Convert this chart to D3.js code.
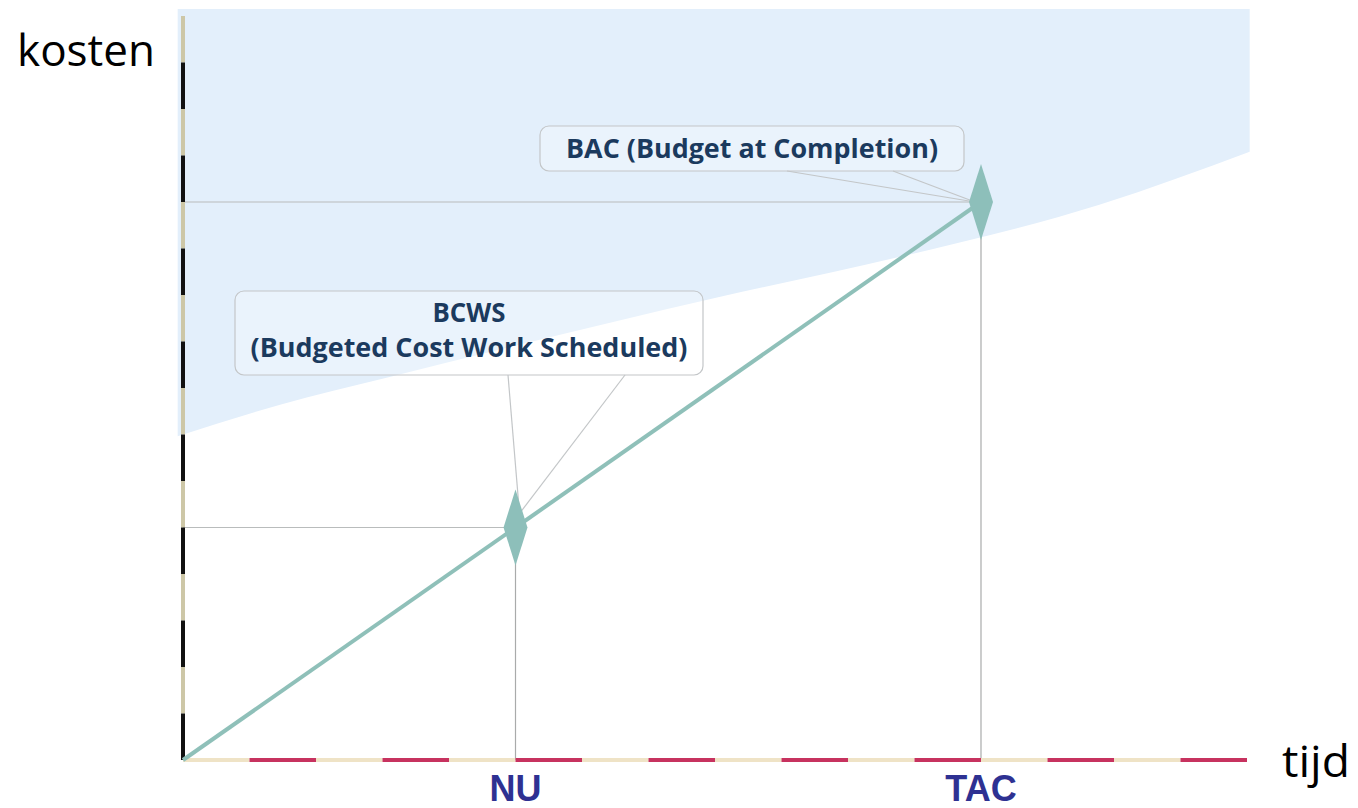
<!DOCTYPE html>
<html>
<head>
<meta charset="utf-8">
<script src="https://cdn.jsdelivr.net/npm/d3@7"></script>
<style>
  body { margin: 0; background: #fff; }
  svg { display: block; }
</style>
</head>
<body>
<div id="chart"></div>
<script>
// axis units (time / cost), one dash period per unit
var xUnits = [0, 1, 2, 3, 4, 5, 6, 7];
var yUnits = [0, 1, 2, 3, 4, 5, 6, 7];

// planned cost line (BCWS) and its milestones
var timeValues = [0, 2.5, 6];
var costValues = [0, 2.5, 6];
var milestoneLabels = ["", "NU", "TAC"];

// edge of the blue zone (time, cost)
var zoneTime = [-0.04, 0.73, 1.53, 4.04, 5.39, 6.89, 8.02];
var zoneCost = [3.48, 3.82, 4.11, 4.98, 5.41, 5.97, 6.54];

var bacText = ["BAC (Budget at Completion)"];
var bcwsText = ["BCWS", "(Budgeted Cost Work Scheduled)"];

var width = 1358, height = 808;

var x = d3.scaleLinear().domain([0, 8]).range([183, 1247]);
var y = d3.scaleLinear().domain([0, 8]).range([760, 16]);

var svg = d3.select("#chart").append("svg")
    .attr("width", width)
    .attr("height", height);

// blue zone: panel top down to the curved edge
var zone = zoneTime.map(function(t, i) { return [t, zoneCost[i]]; });
var edge = d3.line()
    .x(function(d) { return x(d[0]); })
    .y(function(d) { return y(d[1]); })
    .curve(d3.curveMonotoneX);
var topCost = y.invert(9);
svg.append("path")
    .attr("d", edge(zone) + "L" + x(8.02) + "," + y(topCost) + "L" + x(-0.04) + "," + y(topCost) + "Z")
    .attr("fill", "#e3effb");

// helper lines from the axes to each milestone
var pts = timeValues.map(function(t, i) { return {t: t, c: costValues[i], label: milestoneLabels[i]}; });
var marks = pts.filter(function(d) { return d.label !== ""; });

svg.selectAll("line.hguide").data(marks).enter().append("line")
    .attr("class", "hguide")
    .attr("x1", x(0)).attr("x2", function(d) { return x(d.t) - 8; })
    .attr("y1", function(d) { return y(d.c); }).attr("y2", function(d) { return y(d.c); })
    .attr("stroke", "#b9bcbc").attr("stroke-width", 1.2);

svg.selectAll("line.vguide").data(marks).enter().append("line")
    .attr("class", "vguide")
    .attr("x1", function(d) { return x(d.t); }).attr("x2", function(d) { return x(d.t); })
    .attr("y1", function(d) { return y(d.c) + 30; }).attr("y2", y(0))
    .attr("stroke", "#a9abab").attr("stroke-width", 1.2);

// callout boxes
function callout(lines, widths, bx, by, bw, bh, tail, tip, baselines) {
  svg.append("rect")
      .attr("x", bx).attr("y", by).attr("width", bw).attr("height", bh)
      .attr("rx", 9).attr("ry", 9)
      .attr("fill", "#ffffff").attr("fill-opacity", 0.25)
      .attr("stroke", "#c3c6c8").attr("stroke-width", 1.2);
  tail.forEach(function(tx) {
    svg.append("line")
        .attr("x1", tx).attr("y1", by + bh)
        .attr("x2", tip[0]).attr("y2", tip[1])
        .attr("stroke", "#c3c6c8").attr("stroke-width", 1.2);
  });
  svg.selectAll(null).data(lines).enter().append("text")
      .attr("x", bx + bw / 2)
      .attr("y", function(d, i) { return baselines[i]; })
      .attr("text-anchor", "middle")
      .attr("font-family", "'Open Sans', sans-serif")
      .attr("font-weight", 700)
      .attr("font-size", 27)
      .attr("fill", "#1b3a5e")
      .attr("textLength", function(d, i) { return widths[i]; })
      .attr("lengthAdjust", "spacingAndGlyphs")
      .text(function(d) { return d; });
}

var bac = marks[1], bcws = marks[0];
callout(bacText, [372], 540, 126, 424, 45, [787, 893], [x(bac.t) - 6, y(bac.c)], [158]);
callout(bcwsText, [73, 437], 235, 291, 468, 84, [508, 625], [x(bcws.t) + 4, y(bcws.c) - 14], [322, 357]);

// axes: dashed two-tone lines
svg.selectAll("line.ybeige").data(yUnits).enter().append("line")
    .attr("x1", x(0)).attr("x2", x(0))
    .attr("y1", function(d) { return y(d + 0.5); }).attr("y2", function(d) { return y(d + 1); })
    .attr("stroke", "#cdc7a7").attr("stroke-width", 4);
svg.selectAll("line.yblack").data(yUnits).enter().append("line")
    .attr("x1", x(0)).attr("x2", x(0))
    .attr("y1", function(d) { return y(d); }).attr("y2", function(d) { return y(d + 0.5); })
    .attr("stroke", "#111").attr("stroke-width", 4);

svg.selectAll("line.xbeige").data(xUnits).enter().append("line")
    .attr("x1", function(d) { return x(d); }).attr("x2", function(d) { return x(d + 0.5); })
    .attr("y1", y(0)).attr("y2", y(0))
    .attr("stroke", "#efe3c6").attr("stroke-width", 4);
svg.selectAll("line.xred").data(xUnits).enter().append("line")
    .attr("x1", function(d) { return x(d + 0.5); }).attr("x2", function(d) { return x(d + 1); })
    .attr("y1", y(0)).attr("y2", y(0))
    .attr("stroke", "#c7325f").attr("stroke-width", 4);

// BCWS line
var line = d3.line()
    .x(function(d) { return x(d.t); })
    .y(function(d) { return y(d.c); });
svg.append("path")
    .attr("d", line(pts))
    .attr("fill", "none")
    .attr("stroke", "#8fc0b9")
    .attr("stroke-width", 4);

// diamonds
svg.selectAll("path.diamond").data(marks).enter().append("path")
    .attr("class", "diamond")
    .attr("d", function(d) {
      var cx = x(d.t), cy = y(d.c);
      return "M" + cx + "," + (cy - 38) + "L" + (cx + 12) + "," + cy +
             "L" + cx + "," + (cy + 38) + "L" + (cx - 12) + "," + cy + "Z";
    })
    .attr("fill", "#8dbfba");

// milestone labels
svg.selectAll("text.mlabel").data(marks).enter().append("text")
    .attr("class", "mlabel")
    .attr("x", function(d) { return x(d.t); })
    .attr("y", 801)
    .attr("text-anchor", "middle")
    .attr("font-family", "'Liberation Sans', Arial, sans-serif")
    .attr("font-weight", "bold")
    .attr("font-size", 36)
    .attr("fill", "#2e3192")
    .text(function(d) { return d.label; });

// axis titles
svg.append("text")
    .attr("x", 17).attr("y", 66)
    .attr("font-family", "'Open Sans', sans-serif")
    .attr("font-size", 44)
    .attr("fill", "#000")
    .attr("textLength", 138)
    .attr("lengthAdjust", "spacingAndGlyphs")
    .text("kosten");
svg.append("text")
    .attr("x", 1282).attr("y", 777)
    .attr("font-family", "'Open Sans', sans-serif")
    .attr("font-size", 44)
    .attr("fill", "#000")
    .attr("textLength", 68)
    .attr("lengthAdjust", "spacingAndGlyphs")
    .text("tijd");
</script>
</body>
</html>
